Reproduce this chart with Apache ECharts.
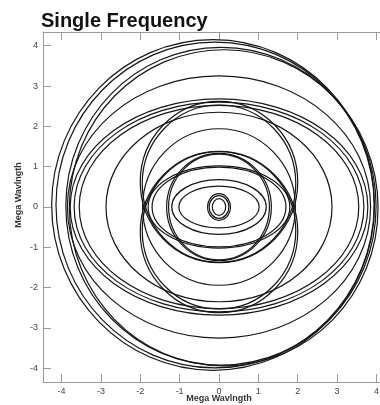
<!DOCTYPE html>
<html>
<head>
<meta charset="utf-8">
<script src="https://cdn.jsdelivr.net/npm/echarts@6/dist/echarts.min.js"></script>
<style>
  html, body { margin: 0; padding: 0; background: #fff; }
  #chart { width: 380px; height: 405px; }
</style>
</head>
<body>
<div id="chart"></div>
<script>
// Wave-front traces, each an ellipse: centre (x, y) and semi-axes, in mega wavelengths
const centerX = [-0.15, -0.10, 0.05, 0.12, 0, 0, 0, 0, 0, 0, 0, 0, 0, 0, 0, 0, 0, 0, 0, 0, 0, 0, 0];
const centerY = [0.05, 0.05, 0.02, -0.02, 0, 0, 0, 0, 0, 0.58, 0.62, -0.58, -0.62, 0, 0, 0, 0, 0, 0, 0, 0, 0, 0];
const radiusX = [4.10, 4.04, 3.94, 3.92, 3.85, 3.78, 3.68, 3.55, 2.87, 1.95, 2.00, 1.95, 2.00, 1.94, 1.80, 1.70, 1.33, 1.28, 1.20, 1.02, 0.29, 0.25, 0.17];
const radiusY = [4.10, 4.04, 3.94, 3.92, 3.25, 2.68, 2.60, 2.52, 2.35, 1.95, 2.00, 1.95, 2.00, 1.94, 1.02, 0.99, 1.33, 1.31, 0.68, 0.52, 0.33, 0.28, 0.21];

// Axis ticks and labels
const tickValues = [-4, -3, -2, -1, 0, 1, 2, 3, 4];
const xRange = [-4.47, 4.47];
const yRange = [-4.34, 4.34];

const traces = centerX.map((c, i) => [c, centerY[i], radiusX[i], radiusY[i]]);

const axisColor = '#9a9a9a';
const font = '"Liberation Sans", Arial, sans-serif';

function frameAxis(position, range, withLabels, extra) {
  return Object.assign({
    type: 'value',
    position: position,
    min: range[0],
    max: range[1],
    axisLine: { show: true, onZero: false, lineStyle: { color: axisColor, width: 1 } },
    axisTick: { show: true, inside: true, length: 8, customValues: tickValues, lineStyle: { color: axisColor, width: 1 } },
    axisLabel: withLabels
      ? { show: true, customValues: tickValues, margin: 5, color: '#444', fontSize: 9, fontFamily: font }
      : { show: false },
    splitLine: { show: false }
  }, extra || {});
}

const chart = echarts.init(document.getElementById('chart'), null, { renderer: 'canvas' });

chart.setOption({
  animation: false,
  backgroundColor: '#fff',
  title: {
    text: 'Single Frequency',
    left: 41,
    top: 11,
    padding: 0,
    textStyle: { fontSize: 20, fontWeight: 'bold', color: '#111', fontFamily: font }
  },
  grid: { left: 43, top: 32, width: 352, height: 350, containLabel: false, outerBoundsMode: 'none' },
  xAxis: [
    frameAxis('bottom', xRange, true, {
      name: 'Mega Wavlngth',
      nameLocation: 'middle',
      nameGap: 12,
      nameMoveOverlap: false,
      nameTextStyle: { fontSize: 9, fontWeight: 'bold', color: '#333', fontFamily: font, verticalAlign: 'top' }
    }),
    frameAxis('top', xRange, false)
  ],
  yAxis: [
    frameAxis('left', yRange, true),
    frameAxis('right', yRange, false)
  ],
  graphic: [{
    type: 'text',
    x: 18.5,
    y: 195,
    rotation: Math.PI / 2,
    style: {
      text: 'Mega Wavlngth',
      align: 'center',
      verticalAlign: 'middle',
      fontSize: 9,
      fontWeight: 'bold',
      fill: '#333',
      fontFamily: font
    }
  }],
  series: [{
    type: 'custom',
    coordinateSystem: 'cartesian2d',
    xAxisIndex: 0,
    yAxisIndex: 0,
    silent: true,
    data: traces,
    encode: { x: 0, y: 1 },
    renderItem: function (params, api) {
      const c = api.coord([api.value(0), api.value(1)]);
      const s = api.size([api.value(2), api.value(3)]);
      return {
        type: 'ellipse',
        shape: { cx: c[0], cy: c[1], rx: s[0], ry: s[1] },
        style: { fill: 'none', stroke: '#161616', lineWidth: 1.2 }
      };
    }
  }]
});
</script>
</body>
</html>
